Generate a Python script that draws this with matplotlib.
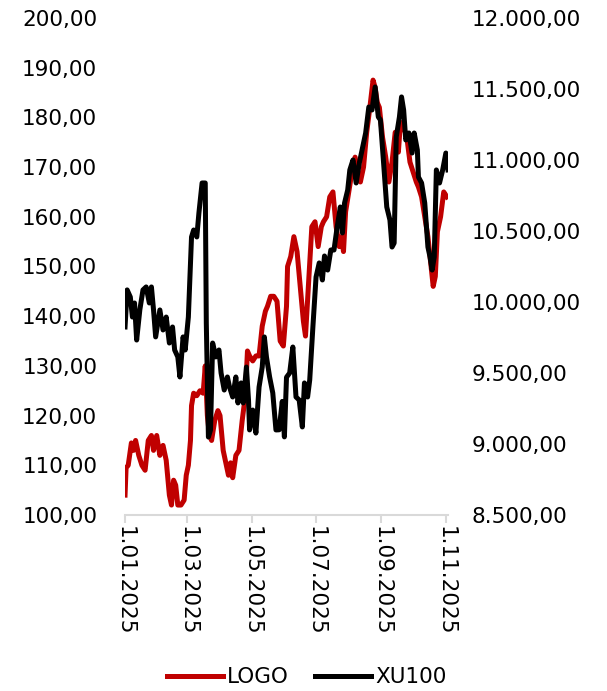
#!/usr/bin/env python3

import numpy as np
import pandas as pd
import matplotlib
matplotlib.use("Agg")
from matplotlib import pyplot as plt
from matplotlib import dates as mdates
from matplotlib.ticker import FuncFormatter, MultipleLocator

# days since 1.01.2025, value pairs
logo_day = [0, 1, 3, 6, 8, 10, 13, 16, 19, 22, 25, 27, 30, 33, 36, 39, 42, 44, 46, 48,
            50, 53, 56, 58, 60, 62, 63, 65, 68, 71, 74, 76, 78, 80, 82, 85, 88, 90, 93,
            96, 98, 100, 102, 105, 108, 111, 114, 116, 118, 121, 124, 127, 130, 133,
            135, 138, 141, 144, 147, 150, 153, 154, 157, 160, 163, 166, 169, 171, 174,
            177, 180, 183, 186, 188, 191, 194, 197, 200, 203, 205, 207, 209, 212, 215,
            218, 221, 223, 226, 229, 232, 235, 237, 239, 241, 244, 247, 250, 253, 256,
            259, 261, 264, 267, 270, 273, 276, 278, 281, 284, 287, 289, 292, 294, 296,
            299, 302, 305]
logo_val = [104, 109.5, 110, 114.5, 113, 115, 112, 110, 109, 115, 116, 113, 116, 112, 114,
            111, 104, 102, 107, 106, 102, 102, 103, 108, 110, 115, 122, 124.5, 124, 125,
            124.5, 130, 120, 116, 115, 119, 121, 120, 113, 110, 108, 110.5, 107.5, 112,
            113, 119, 124, 133, 132, 131, 132, 132, 138, 141, 142, 144, 144, 143, 135,
            134, 142, 150, 152, 156, 153, 146, 139, 136, 147, 158, 159, 154, 158, 159,
            160, 164, 165, 158, 154, 156, 153, 161, 165, 169, 172, 168, 167, 170, 177,
            182, 187.5, 186, 183, 182, 176, 172, 167, 171, 177, 173, 179, 178, 176, 171,
            169, 167, 166, 164, 160, 156, 152, 146, 148, 157, 160, 165, 164]

xu_day = [0, 2, 5, 7, 9, 11, 14, 17, 20, 23, 25, 27, 29, 33, 36, 39, 42, 45, 47, 50, 52,
          55, 57, 60, 63, 65, 68, 70, 73, 76, 77, 79, 81, 83, 86, 89, 91, 94, 97, 99, 102,
          105, 107, 110, 112, 115, 117, 118, 121, 124, 127, 130, 132, 134, 137, 140, 143,
          146, 149, 151, 153, 156, 159, 162, 165, 168, 170, 173, 175, 178, 181, 184, 187,
          189, 192, 195, 198, 201, 204, 206, 208, 211, 213, 216, 219, 222, 224, 228, 231,
          234, 237, 240, 242, 245, 248, 251, 253, 255, 257, 260, 262, 264, 266, 269, 272,
          274, 277, 278, 281, 284, 287, 289, 291, 293, 295, 298, 301, 304, 306]
xu_val = [9824, 10085, 10035, 9894, 9993, 9732, 9944, 10085, 10106, 9993, 10106, 9944,
          9754, 9944, 9803, 9894, 9711, 9824, 9662, 9613, 9472, 9754, 9662, 9894, 10458,
          10507, 10458, 10627, 10838, 10838, 9852, 9049, 9099, 9711, 9613, 9662, 9500,
          9380, 9472, 9401, 9331, 9472, 9289, 9430, 9289, 9542, 9310, 9099, 9239, 9077,
          9401, 9542, 9754, 9613, 9472, 9359, 9099, 9100, 9300, 9050, 9470, 9500, 9683,
          9331, 9310, 9120, 9430, 9331, 9451, 9824, 10176, 10275, 10155, 10324, 10225,
          10366, 10366, 10528, 10669, 10486, 10697, 10789, 10930, 11000, 10838, 10979,
          11049, 11190, 11373, 11352, 11514, 11303, 11282, 10979, 10669, 10577, 10387,
          10415, 11162, 11303, 11444, 11352, 11141, 11190, 11049, 11190, 11070, 10880,
          10838, 10697, 10387, 10317, 10225, 10317, 10930, 10838, 10930, 11049, 10930]

start = pd.Timestamp("2025-01-01")
logo_dates = start + pd.to_timedelta(logo_day, unit="D")
xu_dates = start + pd.to_timedelta(xu_day, unit="D")

RED = "#C00000"
FS = 15.5


def tr_num(v, pos=None):
    s = f"{v:,.2f}"
    return s.replace(",", "X").replace(".", ",").replace("X", ".")


def date_fmt(x, pos=None):
    d = mdates.num2date(x)
    return f"{d.day}.{d.month:02d}.{d.year}"


fig = plt.figure(figsize=(6.07, 6.91), dpi=100)
ax = fig.add_axes([0.206, 0.2547, 0.532, 0.7193])
ax2 = ax.twinx()

l1, = ax.plot(logo_dates, logo_val, color=RED, lw=3.6, solid_joinstyle="round", label="LOGO")
l2, = ax2.plot(xu_dates, xu_val, color="black", lw=3.6, solid_joinstyle="round", label="XU100")

ax.set_ylim(100, 200)
ax2.set_ylim(8500, 12000)
ax.yaxis.set_major_locator(MultipleLocator(10))
ax2.yaxis.set_major_locator(MultipleLocator(500))
ax.yaxis.set_major_formatter(FuncFormatter(tr_num))
ax2.yaxis.set_major_formatter(FuncFormatter(tr_num))

ax.set_xlim(start, start + pd.Timedelta(days=306))
ticks = pd.date_range("2025-01-01", "2025-11-01", freq="2MS")
ax.set_xticks(ticks)
ax.xaxis.set_major_formatter(FuncFormatter(date_fmt))

for a in (ax, ax2):
    for s in ("top", "left", "right", "bottom"):
        a.spines[s].set_visible(False)
ax.spines["bottom"].set_visible(True)
ax.spines["bottom"].set_color("#D9D9D9")
ax.spines["bottom"].set_linewidth(1.5)

ax.tick_params(axis="y", length=0, labelsize=FS, pad=20)
ax2.tick_params(axis="y", length=0, labelsize=FS, pad=17)
ax.tick_params(axis="x", length=6, width=1.5, color="#D9D9D9", labelsize=FS,
               labelrotation=270, pad=2)

fig.legend([l1, l2], ["LOGO", "XU100"], loc="center", bbox_to_anchor=(0.505, 0.02),
           ncol=2, frameon=False, fontsize=FS, handlelength=2.6, handletextpad=0.2,
           columnspacing=1.2)

fig.savefig("out.png", dpi=100)
